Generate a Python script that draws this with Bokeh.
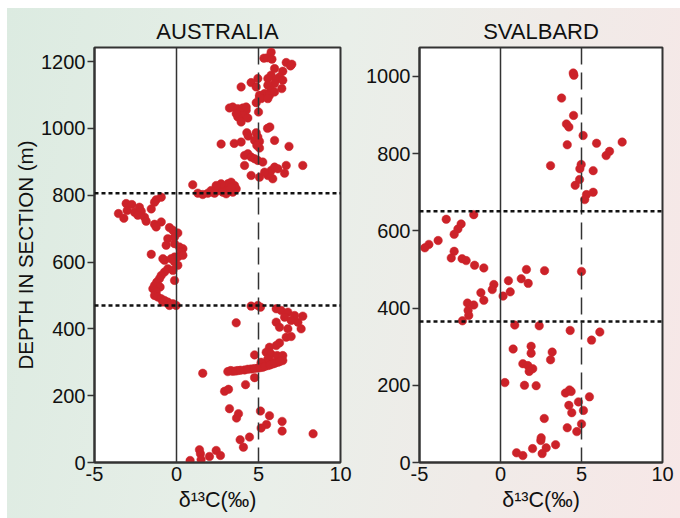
from bokeh.plotting import figure
from bokeh.models import Span, FixedTicker, Range1d, Row
from bokeh.embed import file_html
from bokeh.resources import INLINE

# ---------------- data ----------------
panel_titles = ["AUSTRALIA", "SVALBARD"]
x_ticks = [-5, 0, 5, 10]
x_tick_labels = ["-5", "0", "5", "10"]
aus_y_ticks = [0, 200, 400, 600, 800, 1000, 1200]
sval_y_ticks = [0, 200, 400, 600, 800, 1000]
aus_boundaries = [806, 470]
sval_boundaries = [651, 365]
ref_solid = 0
ref_dashed = 5

aus_pts = [
    (5.77, 1228), (5.33, 1210), (5.55, 1211), (5.82, 1207), (6.69, 1197), (7.03, 1192), (6.95, 1187),
    (5.98, 1179), (6.48, 1171), (5.77, 1159), (6.28, 1154), (5.57, 1149), (6.08, 1146), (6.48, 1144),
    (4.96, 1149), (4.55, 1137), (4.86, 1124), (3.94, 1124), (6.42, 1119), (5.98, 1134), (5.57, 1129),
    (5.77, 1114), (5.37, 1104), (5.06, 1099), (5.67, 1099), (5.98, 1109), (5.16, 1089), (5.57, 1089),
    (4.86, 1077), (5.06, 1092),
    (3.23, 1061), (3.43, 1064), (3.74, 1059), (4.04, 1061), (4.25, 1054), (3.84, 1049), (4.04, 1039),
    (3.74, 1034), (3.94, 1019), (4.35, 1031), (3.64, 1044), (5.00, 1049), (4.25, 1064),
    (5.55, 1000), (5.69, 1004), (4.29, 987), (4.37, 977), (4.86, 987), (4.96, 974), (4.76, 964),
    (5.06, 961), (2.72, 953), (3.52, 955), (3.94, 959), (5.98, 964), (6.86, 946), (4.90, 949), (5.06, 941),
    (4.15, 919), (4.35, 924), (4.55, 914), (4.76, 909), (4.96, 904), (5.26, 899), (4.15, 889),
    (4.55, 859), (5.06, 854), (5.57, 859), (5.77, 874), (5.98, 884), (6.18, 879), (5.87, 849),
    (5.67, 864), (6.69, 889), (6.59, 866), (7.70, 889), (5.37, 869),
    (0.99, 831), (1.30, 806), (1.60, 802), (1.91, 806), (2.21, 809), (2.52, 814), (2.72, 819),
    (2.93, 824), (3.13, 834), (3.33, 839), (3.54, 829), (3.64, 819), (3.43, 809), (3.03, 804),
    (2.72, 834), (2.42, 829), (2.11, 814), (3.13, 814), (2.82, 809), (3.33, 824), (2.32, 806),
    (-1.24, 786), (-0.93, 794), (-1.34, 779), (-3.07, 775), (-2.72, 772), (-3.01, 754), (-3.54, 745),
    (-3.21, 731), (-2.56, 749), (-2.26, 764), (-2.15, 752), (-2.36, 740), (-1.95, 734), (-1.54, 759),
    (-1.85, 722), (-1.34, 713), (-0.93, 720), (-1.24, 705), (-0.43, 703), (-0.22, 695), (0.08, 687),
    (-0.12, 675), (-0.53, 670), (-0.63, 650), (-0.12, 655), (0.18, 645), (0.39, 640), (0.29, 630),
    (-0.12, 615), (-1.54, 623), (-0.83, 610), (-0.73, 605), (-0.33, 610), (-0.12, 600), (0.08, 615),
    (0.39, 620), (-0.53, 580), (-0.22, 575), (-0.73, 570), (-0.93, 560), (-1.04, 550), (-0.12, 545),
    (0.08, 590), (-1.20, 540), (-1.34, 530), (-1.00, 525), (-1.44, 520), (-1.30, 515), (-1.24, 510),
    (-1.34, 500), (-1.14, 495), (-0.93, 490), (-0.73, 485), (-0.53, 480), (-0.22, 475), (-0.02, 470),
    (-0.43, 470), (-0.83, 480),
    (4.55, 468), (4.96, 470), (5.12, 465), (6.08, 460), (6.38, 455), (6.79, 450), (7.20, 440),
    (7.70, 438), (6.59, 435), (6.99, 425), (7.40, 420), (7.60, 400), (6.08, 420), (6.28, 405),
    (6.79, 400), (6.69, 375), (6.99, 377), (6.28, 358), (6.08, 350), (5.67, 345), (5.47, 330),
    (5.77, 325), (6.14, 320), (6.48, 320), (5.57, 310), (5.87, 300), (5.16, 300), (4.76, 322), (3.64, 418),
    (3.13, 272), (3.43, 273), (3.74, 275), (4.15, 277), (4.55, 280), (4.96, 283), (5.26, 285),
    (5.57, 290), (5.87, 295), (6.18, 300), (6.48, 305), (3.30, 275), (3.60, 274), (3.90, 276),
    (4.35, 279), (4.75, 281), (5.10, 284), (5.40, 288), (5.70, 292), (6.00, 297), (6.30, 302),
    (1.60, 267), (4.21, 233), (4.76, 254), (2.93, 213), (3.17, 219), (3.23, 161), (3.78, 146),
    (3.66, 133), (5.12, 154), (5.67, 140), (6.44, 123), (5.49, 114), (5.16, 103), (6.44, 94),
    (8.33, 86), (3.88, 68), (4.45, 76), (4.08, 46), (1.40, 38), (1.46, 26), (2.01, 18), (2.42, 36),
    (2.68, 21), (0.83, 6), (1.50, 9),
]
aus_d13c = [p[0] for p in aus_pts]
aus_depth = [p[1] for p in aus_pts]

sval_pts = [
    (4.49, 1009), (4.53, 1003), (3.77, 944), (4.51, 899), (4.07, 877), (4.22, 869), (5.10, 847),
    (4.12, 823), (5.93, 827), (7.51, 830), (6.52, 795), (6.73, 806), (3.09, 769), (4.98, 772),
    (4.90, 761), (5.72, 756), (4.88, 733), (4.61, 718), (5.31, 694), (5.72, 700), (5.20, 681),
    (-1.65, 642), (-3.35, 630), (-2.43, 618), (-2.63, 605), (-2.86, 591), (-3.85, 575), (-4.42, 565),
    (-4.67, 556), (-2.86, 547), (-3.04, 530), (-2.37, 528), (-2.12, 523), (-1.60, 511), (-1.03, 504),
    (1.60, 500), (2.72, 497), (5.00, 495), (0.49, 471), (1.28, 476), (1.71, 464), (-0.41, 461),
    (-0.51, 448), (-1.21, 440), (-1.03, 420), (0.60, 442), (0.16, 431), (-2.04, 413), (-1.65, 408),
    (-2.00, 394), (-1.96, 381), (-2.35, 367),
    (0.88, 356), (2.39, 354), (4.30, 342), (6.13, 338), (5.62, 317), (0.78, 294), (1.89, 301),
    (1.89, 283), (3.19, 286), (3.09, 266), (1.38, 256), (1.69, 251), (1.99, 243), (1.77, 236),
    (0.27, 207), (1.48, 200), (2.20, 199), (4.01, 180), (4.26, 188), (4.36, 184), (5.49, 170),
    (4.81, 157), (4.22, 148), (5.12, 135), (4.40, 129), (2.70, 114), (5.00, 100), (4.12, 90),
    (4.71, 80), (2.51, 64), (2.49, 57), (3.40, 46), (2.82, 38), (1.98, 36), (0.99, 25), (1.38, 18),
    (2.57, 23),
]
sval_d13c = [p[0] for p in sval_pts]
sval_depth = [p[1] for p in sval_pts]

# ---------------- styling ----------------
FONT = "Liberation Sans"
DARK = "#333333"
RED = "#cc2229"


def make_panel(title, xs, ys, ymax, yticks, bounds, width, bl, br, ylabel):
    p = figure(width=width, height=510, x_range=Range1d(-5, 10), y_range=Range1d(0, ymax),
               output_backend="svg", toolbar_location=None, title=title,
               min_border_left=bl, min_border_right=br, min_border_top=39, min_border_bottom=56)
    p.border_fill_color = None
    p.background_fill_color = "white"
    p.outline_line_color = DARK
    p.outline_line_width = 2
    p.grid.visible = False

    p.title.align = "center"
    p.title.text_font = FONT
    p.title.text_font_size = "22px"
    p.title.text_font_style = "normal"
    p.title.text_color = "#111111"
    p.title.standoff = 7

    for ax in (p.xaxis[0], p.yaxis[0]):
        ax.axis_line_color = DARK
        ax.axis_line_width = 2
        ax.major_label_text_font = FONT
        ax.major_label_text_font_size = "20px"
        ax.major_label_text_color = "#111111"
        ax.minor_tick_line_color = None
        ax.axis_label_text_font = FONT
        ax.axis_label_text_font_size = "20.5px"
        ax.axis_label_text_font_style = "normal"
        ax.axis_label_text_color = "#111111"

    p.xaxis.ticker = FixedTicker(ticks=x_ticks)
    p.xaxis.major_label_overrides = {t: s for t, s in zip(x_ticks, x_tick_labels)}
    p.xaxis.major_tick_line_color = None
    p.xaxis.major_tick_out = 0
    p.xaxis.major_tick_in = 0
    p.xaxis.major_label_standoff = 4
    p.xaxis.axis_label = "δ¹³C(‰)"
    p.xaxis.axis_label_text_font_size = "21.5px"
    p.xaxis.axis_label_standoff = 4

    p.yaxis.ticker = FixedTicker(ticks=yticks)
    p.yaxis.major_tick_line_color = DARK
    p.yaxis.major_tick_line_width = 1.5
    p.yaxis.major_tick_out = 7
    p.yaxis.major_tick_in = 0
    p.yaxis.major_label_standoff = 2
    if ylabel:
        p.yaxis.axis_label = ylabel
        p.yaxis.axis_label_standoff = 1

    p.add_layout(Span(location=ref_solid, dimension="height", line_color=DARK, line_width=1.5))
    p.add_layout(Span(location=ref_dashed, dimension="height", line_color=DARK, line_width=1.5,
                      line_dash="17 8"))
    for b in bounds:
        p.add_layout(Span(location=b, dimension="width", line_color="#111111", line_width=2.5,
                          line_dash="4 3"))

    p.scatter(xs, ys, size=8.5, fill_color=RED, line_color=RED, line_width=0.5)
    return p


p1 = make_panel(panel_titles[0], aus_d13c, aus_depth, 1242, aus_y_ticks, aus_boundaries,
                349, 87, 16, "DEPTH IN SECTION (m)")
p2 = make_panel(panel_titles[1], sval_d13c, sval_depth, 1075, sval_y_ticks, sval_boundaries,
                324, 63, 18, None)

layout = Row(children=[p1, p2], margin=(8, 0, 0, 7),
             styles={"background": "linear-gradient(100deg, #dcebe1 0%, #e9efe9 45%, #f7e7e7 100%)"})

open("out.html", "w").write(file_html(layout, INLINE))
